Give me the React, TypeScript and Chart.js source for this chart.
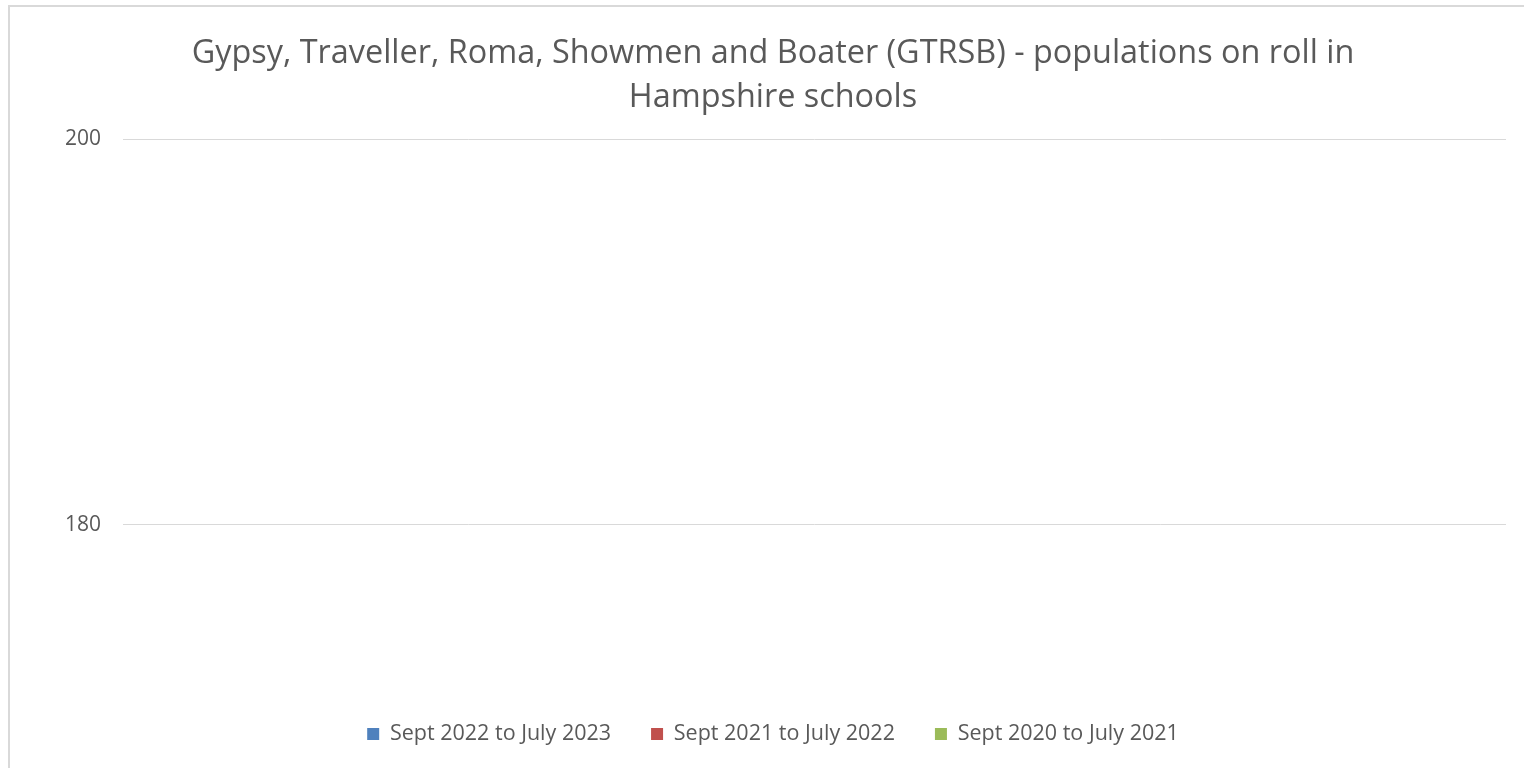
import React, { useEffect, useRef } from "react";
import { Chart, registerables } from "chart.js";

Chart.register(...registerables);

const titleLines = [
  "Gypsy, Traveller, Roma, Showmen and Boater (GTRSB) - populations on roll in",
  "Hampshire schools",
];
const categories = ["Hampshire schools"];
const seriesNames = ["Sept 2022 to July 2023", "Sept 2021 to July 2022", "Sept 2020 to July 2021"];
const series2022to2023: (number | null)[] = [null];
const series2021to2022: (number | null)[] = [null];
const series2020to2021: (number | null)[] = [null];
const seriesColors = ["#4f81bd", "#c0504d", "#9bbb59"];
const yTickValues = [180, 200];
const yMin = 171.8;
const yMax = 200;

const FONT = "'Open Sans', 'Noto Sans', sans-serif";
const TEXT = "#595959";

export default function App() {
  const ref = useRef<HTMLCanvasElement | null>(null);
  useEffect(() => {
    if (!ref.current) return;
    const chart = new Chart(ref.current, {
      type: "bar",
      data: {
        labels: categories,
        datasets: [series2022to2023, series2021to2022, series2020to2021].map((d, i) => ({
          label: seriesNames[i],
          data: d,
          backgroundColor: seriesColors[i],
          borderWidth: 0,
        })),
      },
      options: {
        animation: false,
        responsive: false,
        maintainAspectRatio: false,
        layout: { padding: { left: 40, right: 18, top: 0, bottom: 13.25 } },
        plugins: {
          title: {
            display: true,
            text: titleLines,
            color: TEXT,
            font: { family: FONT, size: 32.4, weight: "normal", lineHeight: 44 / 32.4 },
            padding: { top: 32, bottom: 19 },
          },
          legend: {
            display: true,
            position: "bottom",
            labels: {
              color: TEXT,
              font: { family: FONT, size: 21.5 },
              boxWidth: 12,
              boxHeight: 12,
              padding: 40,
            },
          },
          tooltip: { enabled: false },
        },
        scales: {
          x: { display: false },
          y: {
            min: yMin,
            max: yMax,
            afterBuildTicks: (scale: any) => {
              scale.ticks = yTickValues.map((v) => ({ value: v }));
            },
            afterFit: (scale: any) => {
              scale.width = 83;
            },
            border: { display: false },
            grid: { color: "#d9d9d9", lineWidth: 1, drawTicks: false },
            ticks: {
              color: TEXT,
              font: { family: FONT, size: 21 },
              padding: 22,
            },
          },
        },
      },
    });
    return () => chart.destroy();
  }, []);
  return (
    <div style={{ position: "fixed", left: 0, top: 0, width: 1524, height: 768, overflow: "hidden", background: "#fff" }}>
      <div
        style={{
          position: "absolute",
          left: 8,
          top: 5,
          width: 1700,
          height: 900,
          border: "2px solid #d9d9d9",
        }}
      />
      <canvas ref={ref} width={1524} height={768} style={{ position: "absolute", left: 0, top: 0 }} />
    </div>
  );
}
